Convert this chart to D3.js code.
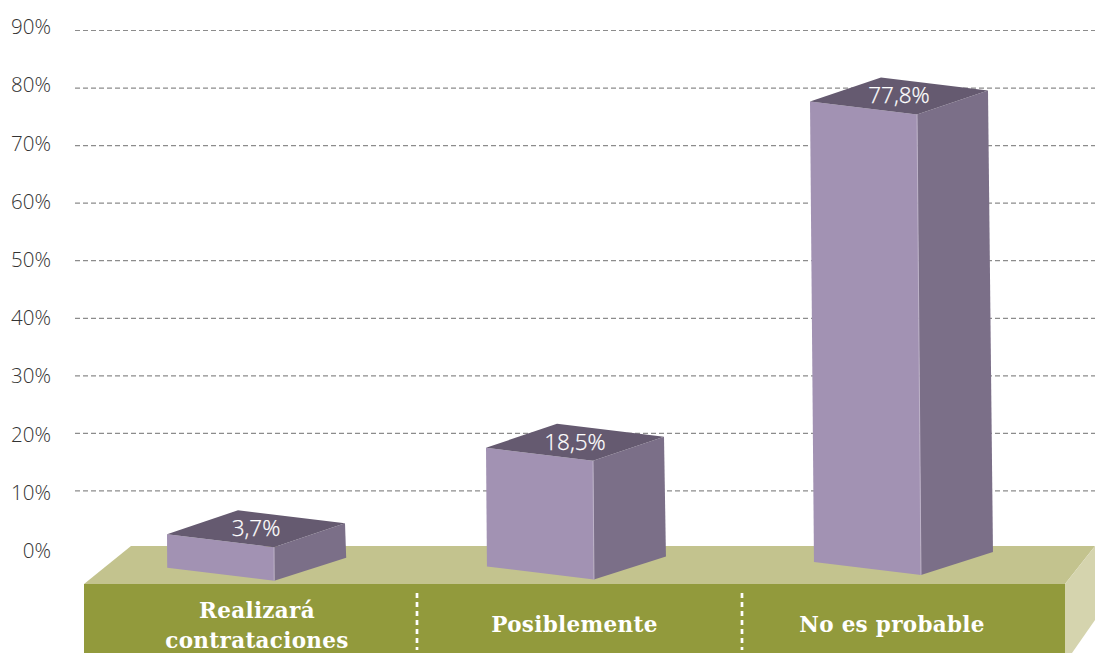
<!DOCTYPE html>
<html>
<head>
<meta charset="utf-8">
<script src="https://cdn.jsdelivr.net/npm/d3@7"></script>
<style>
    html, body { margin: 0; padding: 0; background: #fff; overflow: hidden; }
    svg { display: block; }
    .domain { display: none; }
    .grid line { stroke: #8c8c8c; stroke-width: 1.2; stroke-dasharray: 5,3; }
    .ticks text { font-family: "Open Sans", sans-serif; font-size: 20.5px; font-weight: 300; fill: #333; }
    .value { font-family: "Open Sans", sans-serif; font-size: 22.5px; font-weight: 300; fill: #fff; text-anchor: middle; stroke: #fff; stroke-width: 0.25; }
    .cat { font-family: "DejaVu Serif", serif; font-size: 21.5px; font-weight: bold; fill: #fff; text-anchor: middle; letter-spacing: 0.3px; }
</style>
</head>
<body>
<script>
    var categories = ["Realizará contrataciones", "Posiblemente", "No es probable"];
    var values = [3.7, 18.5, 77.8];
    var valueLabels = ["3,7%", "18,5%", "77,8%"];
    var tickValues = [0, 10, 20, 30, 40, 50, 60, 70, 80, 90];

    var width = 1095, height = 653;

    var svg = d3.select("body").append("svg")
            .attr("width", width)
            .attr("height", height);

    // gridlines, tick labels and bars don't share one exact line, the original is a drawn 3d picture
    var y = d3.scaleLinear().domain([0, 90]).range([548, 30]);
    var yLabel = d3.scaleLinear().domain([0, 90]).range([551, 27]);
    var barTop = d3.scaleLinear().domain([0, 90]).range([555.8, 30.2]);
    var barBase = d3.scaleLinear().domain([0, 90]).range([568, 561]);
    var barLean = d3.scaleLinear().domain([0, 90]).range([0, 4.6]);
    var barX = d3.scaleOrdinal().domain(categories).range([167, 486, 810]);
    var labelX = d3.scalePoint().domain(categories).range([257, 892]);

    var frontW = 107, frontDrop = 13, sideW = 71, sideRise = 24;

    var gridAxis = d3.axisLeft(y)
            .tickValues(tickValues.slice(1))
            .tickFormat("")
            .tickSize(-1020);

    svg.append("g")
            .attr("class", "grid")
            .attr("transform", "translate(75,0)")
            .call(gridAxis);

    var labelAxis = d3.axisLeft(yLabel)
            .tickValues(tickValues)
            .tickFormat(function(d) { return d + "%"; })
            .tickSize(0)
            .tickPadding(24);

    svg.append("g")
            .attr("class", "ticks")
            .attr("transform", "translate(75,0)")
            .call(labelAxis);

    // platform
    var floor = svg.append("g");
    function pts(list) { return list.map(function(p) { return p.join(","); }).join(" "); }
    floor.append("polygon").attr("points", pts([[84,584],[131,546],[1095,546],[1065,584]])).attr("fill", "#c3c38e");
    floor.append("polygon").attr("points", pts([[1065,584],[1095,546],[1095,620],[1072,653],[1065,653]])).attr("fill", "#d5d4ae");
    floor.append("rect").attr("x", 84).attr("y", 584).attr("width", 981).attr("height", 69).attr("fill", "#929a3c");

    floor.selectAll(".divider")
            .data([417, 742])
            .enter().append("line")
            .attr("class", "divider")
            .attr("x1", function(d) { return d; })
            .attr("x2", function(d) { return d; })
            .attr("y1", 593)
            .attr("y2", 650)
            .attr("stroke", "#fff")
            .attr("stroke-width", 2.7)
            .attr("stroke-dasharray", "5,4");

    // bars
    var bars = svg.selectAll(".bar")
            .data(values)
            .enter().append("g")
            .attr("class", "bar");

    bars.each(function(d, i) {
        var g = d3.select(this);
        var x0 = barX(categories[i]);
        var t = barTop(d), b = barBase(d), lean = barLean(d);
        var tl = [x0, t], tf = [x0 + frontW, t + frontDrop], tr = [x0 + frontW + sideW, t + frontDrop - sideRise], tb = [x0 + sideW, t - sideRise];
        var bl = [x0 + lean, b], bf = [x0 + lean + frontW, b + frontDrop], br = [x0 + lean + frontW + sideW + 1, b + frontDrop - sideRise + 1];

        g.append("polygon").attr("points", pts([tl, tf, bf, bl])).attr("fill", "#a292b3");
        g.append("polygon").attr("points", pts([tf, tr, br, bf])).attr("fill", "#7b6f88");
        g.append("polygon").attr("points", pts([tl, tb, tr, tf])).attr("fill", "#655a70");
        g.append("line")
                .attr("x1", tf[0]).attr("y1", tf[1])
                .attr("x2", bf[0]).attr("y2", bf[1])
                .attr("stroke", "#bdb2c8").attr("stroke-width", 1);

        g.append("text")
                .attr("class", "value")
                .attr("x", x0 + 89)
                .attr("y", t + 2)
                .text(valueLabels[i]);
    });

    // category labels
    var labels = svg.selectAll(".cat")
            .data(categories)
            .enter().append("text")
            .attr("class", "cat")
            .attr("x", function(d) { return labelX(d); })
            .attr("y", function(d) { return d.length > 20 ? 618 : 632; });

    labels.each(function(d) {
        var el = d3.select(this);
        if (d.length > 20) {
            var parts = d.split(" ");
            el.append("tspan").attr("x", labelX(d)).text(parts[0]);
            el.append("tspan").attr("x", labelX(d)).attr("dy", 30).text(parts[1]);
        } else {
            el.text(d);
        }
    });
</script>
</body>
</html>
